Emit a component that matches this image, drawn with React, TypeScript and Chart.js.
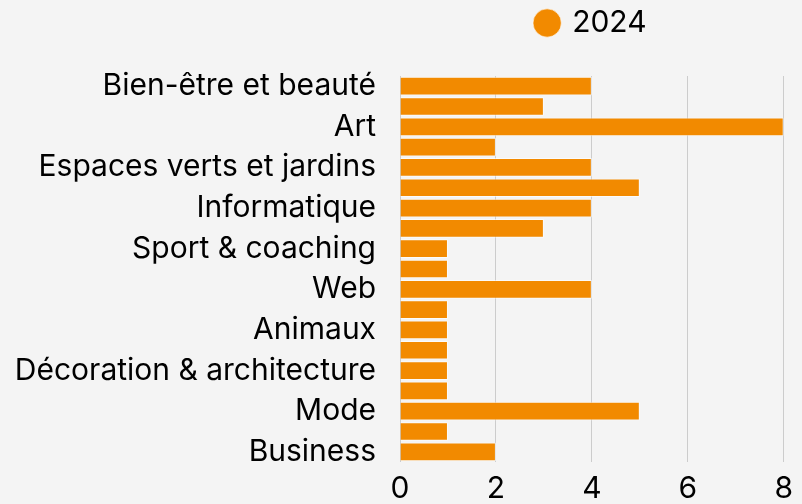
import React, { useEffect, useRef } from "react";
import { Chart, registerables } from "chart.js";

Chart.register(...registerables);

const categories = [
  "Bien-être et beauté",
  "Cuisine",
  "Art",
  "Musique",
  "Espaces verts et jardins",
  "Bricolage",
  "Informatique",
  "Photographie",
  "Sport & coaching",
  "Santé",
  "Web",
  "Éducation",
  "Animaux",
  "Événementiel",
  "Décoration & architecture",
  "Immobilier",
  "Mode",
  "Juridique",
  "Business",
];
const values2024 = [4, 3, 8, 2, 4, 5, 4, 3, 1, 1, 4, 1, 1, 1, 1, 1, 5, 1, 2];
const seriesLabel = "2024";
const xTicks = [0, 2, 4, 6, 8];

const ORANGE = "#f28a00";
const FONT = "Inter, 'Noto Sans', sans-serif";
const FONT_SIZE = 30;

const legendGap = {
  id: "legendGap",
  beforeInit(chart: any) {
    const legend = chart.legend;
    if (!legend) return;
    const origFit = legend.fit;
    legend.fit = function fit() {
      origFit.call(this);
      this.height += 28;
    };
  },
};

export default function App() {
  const ref = useRef<HTMLCanvasElement | null>(null);
  useEffect(() => {
    document.body.style.margin = "0";
    document.body.style.background = "#f4f4f4";
    const chart = new Chart(ref.current!, {
      type: "bar",
      data: {
        labels: categories,
        datasets: [
          {
            label: seriesLabel,
            data: values2024,
            backgroundColor: ORANGE,
            borderColor: "rgba(255,255,255,0.6)",
            borderWidth: 1,
            barPercentage: 0.92,
            categoryPercentage: 1,
          },
        ],
      },
      plugins: [legendGap],
      options: {
        indexAxis: "y",
        animation: false,
        responsive: false,
        layout: { padding: { left: 0, right: 11, top: 0, bottom: 0 } },
        plugins: {
          legend: {
            display: true,
            position: "top",
            fullSize: false,
            labels: {
              usePointStyle: true,
              pointStyle: "circle",
              boxHeight: 20,
              boxWidth: 20,
              color: "#000",
              font: { family: FONT, size: FONT_SIZE },
              padding: 8,
            },
          },
          tooltip: { enabled: false },
        },
        scales: {
          x: {
            min: 0,
            max: 8,
            afterBuildTicks: (axis: any) => {
              axis.ticks = xTicks.map((v) => ({ value: v }));
            },
            afterFit: (axis: any) => {
              axis.height = 42;
            },
            grid: { display: true, color: "#cccccc", drawTicks: false },
            border: { display: false },
            ticks: {
              color: "#000",
              font: { family: FONT, size: FONT_SIZE },
              padding: 9,
            },
          },
          y: {
            afterFit: (axis: any) => {
              axis.width = 400;
            },
            grid: { display: false, drawTicks: false },
            border: { display: false },
            ticks: {
              color: "#000",
              font: { family: FONT, size: FONT_SIZE },
              padding: 24,
              autoSkip: false,
              callback: (_v: any, i: number) => (i % 2 === 0 ? categories[i] : ""),
            },
          },
        },
      },
    });
    return () => chart.destroy();
  }, []);
  return <canvas ref={ref} width={802} height={504} style={{ display: "block" }} />;
}
